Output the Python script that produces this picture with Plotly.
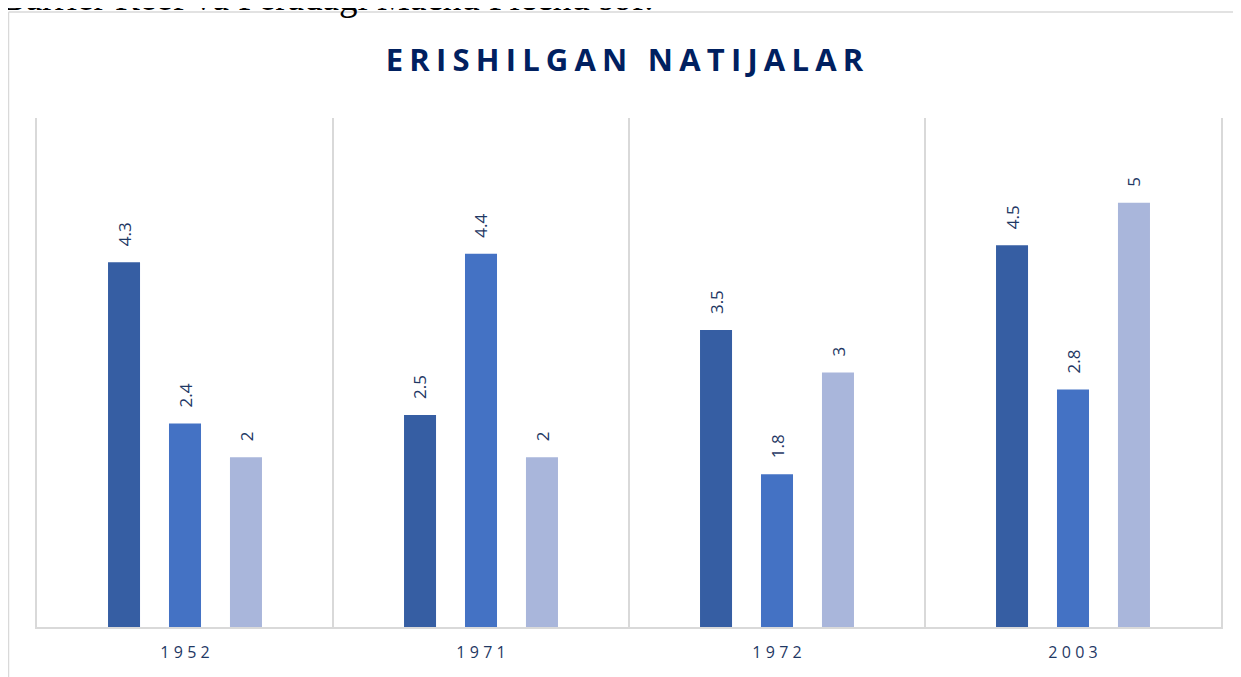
import plotly.graph_objects as go

categories = ["1952", "1971", "1972", "2003"]
series_1 = [4.3, 2.5, 3.5, 4.5]
series_2 = [2.4, 4.4, 1.8, 2.8]
series_3 = [2, 2, 3, 5]
series_names = ["Qator 1", "Qator 2", "Qator 3"]
colors = ["#365ea3", "#4472c4", "#a9b6db"]
title_words = ["ERISHILGAN", "NATIJALAR"]
header_text = "Barrier Reef va Peradagi Machu Picchu sof."

SP = "\u2009\u200a"
LS = "\u200a\u200a"

def spaced(s, sep):
    return sep.join(list(s))

tick_text = [spaced(c, SP) for c in categories]
title_text = (LS + " " + LS).join(spaced(w, LS) for w in title_words)

# figure placed at the page's 8px body offset
W, H = 1233, 669
L, T = 29, 110
PW, PH = 1184, 509

def px_x(x):
    return (x - L) / PW

def px_y(y):
    return (T + PH - y) / PH

fig = go.Figure()
all_series = [series_1, series_2, series_3]
for name, vals, col in zip(series_names, all_series, colors):
    fig.add_trace(go.Bar(x=categories, y=vals, name=name, marker_color=col,
                         marker_line_width=0))

NAVY = "#1f3864"
for i, vals in enumerate(all_series):
    for ci, v in enumerate(vals):
        fig.add_annotation(x=ci, y=v, xref="x", yref="y", text=f"{v:g}", showarrow=False,
                           textangle=-90, xanchor="center", yanchor="bottom",
                           xshift=(i - 1) * 61, yshift=14,
                           font=dict(family="Open Sans", size=17, color=NAVY))

# cropped header text above the chart
fig.add_annotation(x=px_x(-9), y=px_y(12), xref="paper", yref="paper",
                   text=header_text, showarrow=False,
                   xanchor="left", yanchor="bottom",
                   font=dict(family="Liberation Serif", size=37, color="black"))

# outer frame
FR = "#d9d9d9"
fig.add_shape(type="line", xref="paper", yref="paper", x0=px_x(0.5), x1=px_x(0.5),
              y0=px_y(4), y1=px_y(H + 20), line=dict(color=FR, width=1.5))
fig.add_shape(type="line", xref="paper", yref="paper", x0=px_x(0.5), x1=px_x(W + 20),
              y0=px_y(4), y1=px_y(4), line=dict(color=FR, width=1.5))

fig.update_layout(
    width=W, height=H,
    margin=dict(l=L, r=W - L - PW, t=T, b=H - T - PH),
    paper_bgcolor="white", plot_bgcolor="white",
    showlegend=False,
    barmode="group", bargap=0.382, bargroupgap=0.475,
    title=dict(text="<b>" + title_text + "</b>",
               x=0.5, xanchor="center", y=1 - 52 / H, yanchor="middle",
               font=dict(family="Open Sans", size=31, color="#002060")),
    xaxis=dict(type="category", range=[-0.5, 3.5], tickson="boundaries", showgrid=True,
               gridcolor=FR, gridwidth=1.5, ticks="", showline=True, linecolor=FR,
               linewidth=1.5, tickvals=categories, ticktext=tick_text, tickangle=0,
               ticklabelstandoff=10,
               tickfont=dict(family="Open Sans", size=16, color=NAVY)),
    yaxis=dict(range=[0, 6], showgrid=False, showticklabels=False, zeroline=False,
               showline=True, mirror=True, linecolor=FR, linewidth=1.5),
)

fig.write_html("out.html")
